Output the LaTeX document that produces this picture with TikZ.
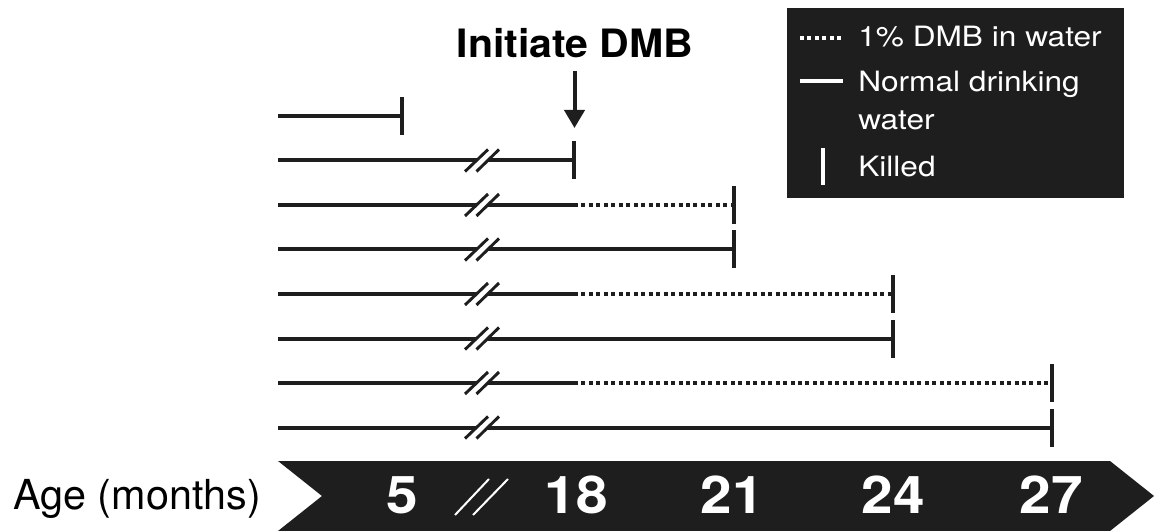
\documentclass[tikz,border=0pt]{standalone}
\usepackage{fontspec}
\setmainfont{TeX Gyre Heros}
\newfontfamily\numfont[FakeStretch=1.09]{TeX Gyre Heros}
\newfontfamily\legfont[FakeStretch=1.13]{TeX Gyre Heros}
\newfontfamily\headfont[FakeStretch=1.05]{TeX Gyre Heros}
\usetikzlibrary{arrows.meta}
\definecolor{ink}{HTML}{1E1E1E}

\tikzset{
  track/.style={line width=3pt, ink},
  dmbline/.style={line width=3pt, ink, dash pattern=on 3pt off 2.6pt},
  killtick/.style={line width=3pt, ink},
  breakslash/.style={line width=2.2pt, ink},
  legtext/.style={anchor=base west, text=white, inner sep=0pt,
    font=\legfont\fontsize{21}{25}\selectfont},
  axisnum/.style={anchor=base, text=white, inner sep=0pt,
    font=\numfont\bfseries\fontsize{39}{42}\selectfont},
}

\begin{document}
\begin{tikzpicture}[x=0.75pt, y=-0.75pt]
\useasboundingbox (0,0) rectangle (1154,531);

% ---- first group: killed at 5 months
\coordinate (s1) at (278,116);
\coordinate (e1) at (401.5,116);
\draw[track] (s1) -- (e1);
\draw[killtick] (401.5,97) -- (401.5,135.5);

% ---- remaining groups: start, DMB onset, end, kind (1 = DMB)
\foreach \i/\y/\xe/\dmb in {2/160.5/574/0, 3/205/734/1, 4/249.5/734/0,
                            5/294/893/1, 6/338.5/893/0, 7/383/1052/1,
                            8/427.5/1052/0}{
  \coordinate (s\i) at (278,\y);
  \coordinate (m\i) at (574,\y);
  \coordinate (e\i) at (\xe,\y);
  \ifnum\dmb=1
    \draw[track] (s\i) -- (m\i);
    \draw[dmbline] (m\i) -- (e\i);
  \else
    \draw[track] (s\i) -- (e\i);
  \fi
  \draw[killtick] (\xe,\y-19) -- (\xe,\y+19);
  % axis break
  \fill[white] (465,\y+11) -- (488,\y-11) -- (499,\y-11) -- (476.5,\y+11) -- cycle;
  \draw[breakslash] (465,\y+11) -- (488,\y-11) (476.5,\y+11) -- (499,\y-11);
}

% ---- onset marker
\node[anchor=base, inner sep=0pt, font=\headfont\bfseries\fontsize{29.3}{33}\selectfont]
  (init) at (575,58) {Initiate DMB};
\coordinate (arrtop) at (574.5,71);
\coordinate (arrtip) at (574.5,128);
\draw[line width=3pt, ink, -{Triangle[width=15pt,length=13.5pt]}] (arrtop) -- (arrtip);

% ---- legend
\fill[ink] (787,8) rectangle (1124,198);
\coordinate (ld1) at (800,38);  \coordinate (ld2) at (843,38);
\draw[line width=3pt, white, dash pattern=on 3pt off 2.6pt] (ld1) -- (ld2);
\node[legtext] (legdmb) at (858,47) {1\% DMB in water};
\coordinate (ls1) at (800,81);  \coordinate (ls2) at (843,81);
\draw[line width=3pt, white] (ls1) -- (ls2);
\node[legtext] (legnorm) at (858,91.5) {Normal drinking};
\node[legtext] (legwater) at (858,130) {water};
\coordinate (lk1) at (823,148); \coordinate (lk2) at (823,185);
\draw[line width=3pt, white] (lk1) -- (lk2);
\node[legtext] (legkill) at (858,177) {Killed};

% ---- age axis band
\fill[ink] (278,461) -- (1110,461) -- (1154,496) -- (1110,531)
  -- (278,531) -- (322,496) -- cycle;
\node[anchor=base, inner sep=0pt, font=\fontsize{31}{34}\selectfont]
  (agelab) at (137,509.5) {Age (months)};
\node[axisnum] (a5)  at (402,513) {5};
\draw[line width=1.5pt, white] (455,515) -- (489,479) (473,515) -- (508,479);
\node[axisnum] (a18) at (576,513) {18};
\node[axisnum] (a21) at (732,513) {21};
\node[axisnum] (a24) at (893,513) {24};
\node[axisnum] (a27) at (1051,513) {27};
\end{tikzpicture}
\end{document}
